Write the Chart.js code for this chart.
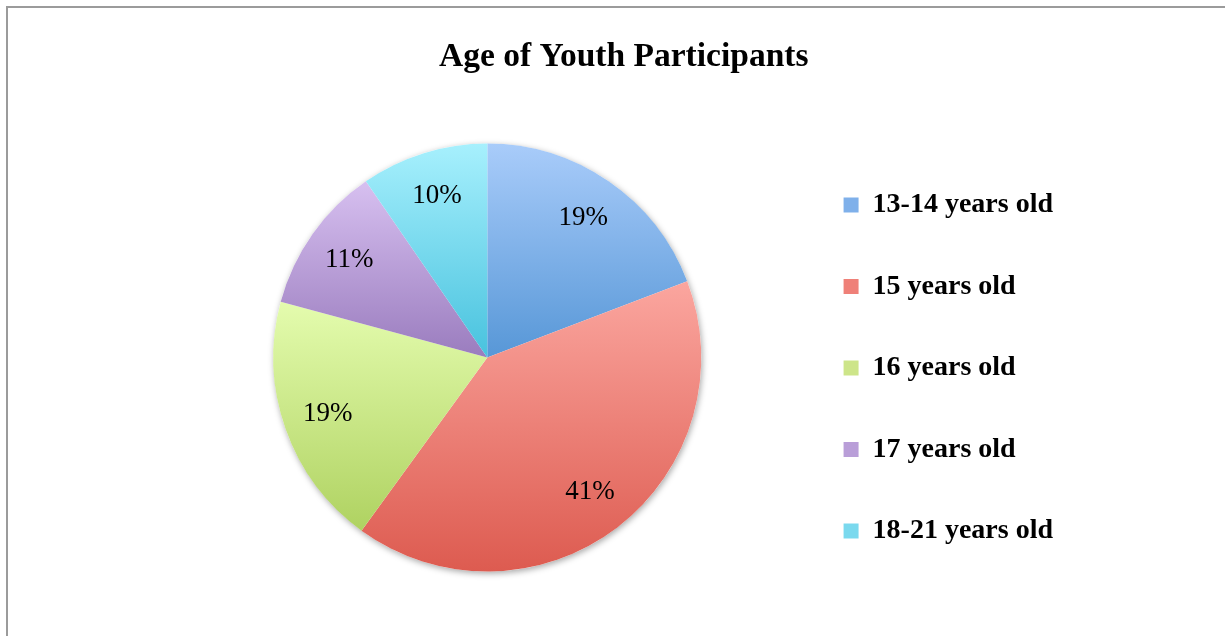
<!DOCTYPE html>
<html>
<head>
<meta charset="utf-8">
<script src="https://cdn.jsdelivr.net/npm/chart.js@4.4.0/dist/chart.umd.min.js"></script>
<style>
  html, body { margin: 0; padding: 0; background: #fff; overflow: hidden; }
  #wrap { position: relative; width: 1225px; height: 636px; }
  #frame { position: absolute; left: 6px; top: 6px; width: 1300px; height: 700px;
           border-left: 2px solid #9b9b9b; border-top: 2px solid #9b9b9b; }
  #box { position: absolute; left: 0; top: 0; width: 1225px; height: 636px; }
</style>
</head>
<body>
<div id="wrap">
  <div id="frame"></div>
  <div id="box"><canvas id="myChart"></canvas></div>
</div>
<script>
const chartLabels = ['13-14 years old', '15 years old', '16 years old', '17 years old', '18-21 years old'];
const chartData = [24, 51, 24, 14, 12];
const topColors = ['#a9ccfa', '#fba69f', '#e4fcae', '#d7c0f0', '#a7f0fd'];
const bottomColors = ['#5797d7', '#dd5b50', '#afd261', '#9a7cbe', '#48c2de'];
const legendColors = ['#7fb0ea', '#ef8078', '#cde589', '#b99ed8', '#7ad9ee'];
const pieRadius = 214;

const total = chartData.reduce((acc, val) => acc + val, 0);

// each slice gets its own top-to-bottom gradient, like the Office fill
function sliceGradient(context) {
  const chart = context.chart;
  const area = chart.chartArea;
  const i = context.dataIndex;
  if (!area) return bottomColors[i];
  const cy = (area.top + area.bottom) / 2;
  let before = 0;
  for (let k = 0; k < i; k++) before += chartData[k];
  const a0 = -Math.PI / 2 + before / total * 2 * Math.PI;
  const a1 = a0 + chartData[i] / total * 2 * Math.PI;
  const ys = [cy, cy + pieRadius * Math.sin(a0), cy + pieRadius * Math.sin(a1)];
  [-Math.PI / 2, Math.PI / 2, 3 * Math.PI / 2].forEach(a => {
    if (a >= a0 && a <= a1) ys.push(cy + pieRadius * Math.sin(a));
  });
  const g = chart.ctx.createLinearGradient(0, Math.min(...ys), 0, Math.max(...ys));
  g.addColorStop(0, topColors[i]);
  g.addColorStop(1, bottomColors[i]);
  return g;
}

const pieShadow = {
  id: 'pieShadow',
  beforeDatasetsDraw(chart) {
    const arc = chart.getDatasetMeta(0).data[0];
    if (!arc) return;
    const p = arc.getProps(['x', 'y', 'outerRadius']);
    const ctx = chart.ctx;
    ctx.save();
    ctx.shadowColor = 'rgba(0,0,0,0.35)';
    ctx.shadowBlur = 6;
    ctx.shadowOffsetX = 1;
    ctx.shadowOffsetY = 2;
    ctx.fillStyle = '#fff';
    ctx.beginPath();
    ctx.arc(p.x, p.y, p.outerRadius, 0, Math.PI * 2);
    ctx.fill();
    ctx.restore();
  }
};

const pieLabels = {
  id: 'pieLabels',
  afterDatasetsDraw(chart) {
    const ctx = chart.ctx;
    const meta = chart.getDatasetMeta(0);
    ctx.save();
    ctx.font = '27px "Liberation Serif"';
    ctx.fillStyle = '#000';
    ctx.textAlign = 'center';
    ctx.textBaseline = 'middle';
    meta.data.forEach((arc, i) => {
      const p = arc.getProps(['x', 'y', 'startAngle', 'endAngle', 'outerRadius']);
      const mid = (p.startAngle + p.endAngle) / 2;
      const r = p.outerRadius * 0.79;
      const pct = Math.round(chartData[i] / total * 100) + '%';
      ctx.fillText(pct, p.x + Math.cos(mid) * r, p.y + Math.sin(mid) * r);
    });
    ctx.restore();
  }
};

Chart.defaults.color = '#000';

new Chart(document.getElementById('myChart'), {
  type: 'pie',
  data: {
    labels: chartLabels,
    datasets: [{
      data: chartData,
      backgroundColor: sliceGradient,
      borderWidth: 0
    }]
  },
  options: {
    responsive: true,
    maintainAspectRatio: false,
    animation: false,
    radius: pieRadius,
    layout: { padding: { left: 184.5, right: 162, top: 0, bottom: 0 } },
    plugins: {
      tooltip: { enabled: false },
      title: {
        display: true,
        text: 'Age of Youth Participants',
        color: '#000',
        font: { family: '"Liberation Serif"', size: 33.5, weight: 'bold', lineHeight: 1.2 },
        padding: { top: 37.5, bottom: 1.3 }
      },
      legend: {
        position: 'right',
        title: { display: true, text: '', padding: { top: 90, bottom: 0 }, font: { size: 10, lineHeight: 1 } },
        labels: {
          boxWidth: 15,
          boxHeight: 15,
          padding: 53.5,
          color: '#000',
          font: { family: '"Liberation Serif"', size: 28, weight: 'bold' },
          generateLabels: () => chartLabels.map((label, i) => ({
            text: label,
            fillStyle: legendColors[i],
            strokeStyle: legendColors[i],
            lineWidth: 0,
            hidden: false,
            index: i
          }))
        }
      }
    }
  },
  plugins: [pieShadow, pieLabels]
});
</script>
</body>
</html>
